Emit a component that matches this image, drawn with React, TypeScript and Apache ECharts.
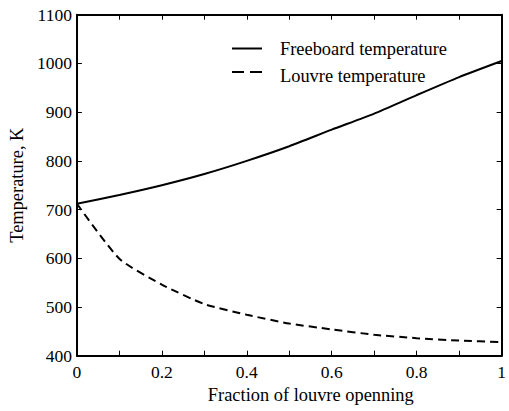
import React, { useEffect, useRef } from "react";
import * as echarts from "echarts";

const fractions = [0, 0.1, 0.2, 0.3, 0.4, 0.5, 0.6, 0.7, 0.8, 0.9, 1.0];
const freeboardTemp = [712, 730, 750, 773, 800, 830, 864, 897, 935, 972, 1005];
const louvreTemp = [712, 599, 546, 506, 484, 466, 454, 443, 436, 431, 428];
const seriesNames = ["Freeboard temperature", "Louvre temperature"];

const FONT = "Liberation Serif, Times New Roman, serif";
const TICK_SIZE = 17.5;
const TITLE_SIZE = 18.4;

export default function App() {
  const ref = useRef<HTMLDivElement>(null);
  useEffect(() => {
    if (!ref.current) return;
    const chart = echarts.init(ref.current, undefined, { renderer: "svg" });
    const xLabel = (v: number) => {
      const k = Math.round(v * 10);
      if (k % 2 !== 0) return "";
      return String(+(k / 10).toFixed(1));
    };
    const tickCommon = { show: true, inside: true, length: 5, lineStyle: { color: "#000", width: 1 } };
    const lineCommon = { show: true, onZero: false, lineStyle: { color: "#000", width: 2 } };
    chart.setOption({
      animation: false,
      backgroundColor: "#ffffff",
      textStyle: { fontFamily: FONT, color: "#000" },
      grid: { left: 73.5, right: 3.5, top: 14.7, bottom: 55.3, containLabel: false },
      graphic: [
        { type: "line", shape: { x1: 232, y1: 48.5, x2: 262, y2: 48.5 }, style: { stroke: "#000", lineWidth: 2 } },
        { type: "line", shape: { x1: 232, y1: 72, x2: 262, y2: 72 }, style: { stroke: "#000", lineWidth: 2, lineDash: [12, 6] } },
        { type: "text", x: 280, y: 49, style: { text: seriesNames[0], fontFamily: FONT, fontSize: TITLE_SIZE, fill: "#000", verticalAlign: "middle" } },
        { type: "text", x: 280, y: 76, style: { text: seriesNames[1], fontFamily: FONT, fontSize: TITLE_SIZE, fill: "#000", verticalAlign: "middle" } },
      ],
      xAxis: [
        {
          type: "value",
          min: 0,
          max: 1,
          interval: 0.1,
          name: "Fraction of louvre openning",
          nameLocation: "middle",
          nameGap: 29,
          nameTextStyle: { fontFamily: FONT, fontSize: TITLE_SIZE, color: "#000", padding: [0, 0, 0, 43] },
          axisLine: lineCommon,
          axisTick: tickCommon,
          axisLabel: { formatter: xLabel, fontFamily: FONT, fontSize: TICK_SIZE, color: "#000", margin: 7 },
          splitLine: { show: false },
        },
        {
          type: "value",
          position: "top",
          min: 0,
          max: 1,
          interval: 0.1,
          axisLine: lineCommon,
          axisTick: tickCommon,
          axisLabel: { show: false },
          splitLine: { show: false },
        },
      ],
      yAxis: [
        {
          type: "value",
          min: 400,
          max: 1100,
          interval: 100,
          name: "Temperature, K",
          nameLocation: "middle",
          nameGap: 43,
          nameRotate: 90,
          nameTextStyle: { fontFamily: FONT, fontSize: TITLE_SIZE, color: "#000" },
          axisLine: lineCommon,
          axisTick: tickCommon,
          axisLabel: { formatter: (v: number) => String(v), fontFamily: FONT, fontSize: TICK_SIZE, color: "#000", margin: 5 },
          splitLine: { show: false },
        },
        {
          type: "value",
          position: "right",
          min: 400,
          max: 1100,
          interval: 100,
          axisLine: lineCommon,
          axisTick: tickCommon,
          axisLabel: { show: false },
          splitLine: { show: false },
        },
      ],
      series: [
        {
          name: seriesNames[0],
          type: "line",
          xAxisIndex: 0,
          yAxisIndex: 0,
          smooth: 0.2,
          symbol: "none",
          data: fractions.map((f, i) => [f, freeboardTemp[i]]),
          lineStyle: { color: "#000", width: 2, type: "solid" },
          itemStyle: { color: "#000" },
        },
        {
          name: seriesNames[1],
          type: "line",
          xAxisIndex: 0,
          yAxisIndex: 0,
          smooth: 0.2,
          symbol: "none",
          data: fractions.map((f, i) => [f, louvreTemp[i]]),
          lineStyle: { color: "#000", width: 2, type: [8, 5] },
          itemStyle: { color: "#000" },
        },
      ],
    });
    return () => chart.dispose();
  }, []);
  return (
    <div
      ref={ref}
      style={{ position: "fixed", left: 0, top: 0, width: 509, height: 411 }}
    />
  );
}
